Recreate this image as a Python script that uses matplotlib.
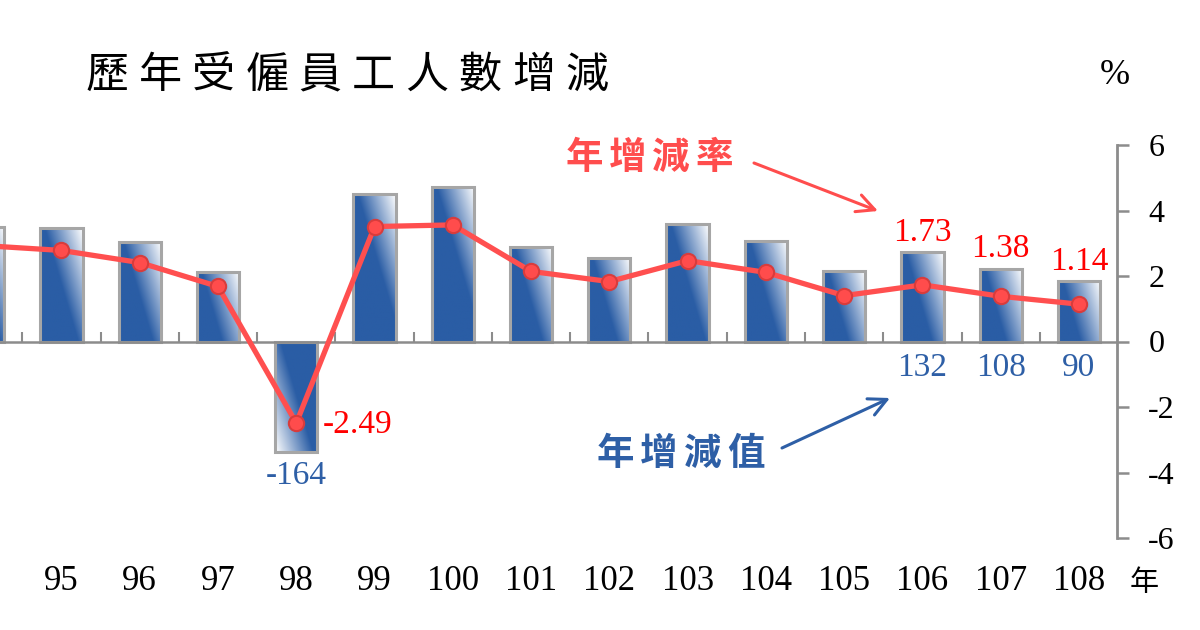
import matplotlib
matplotlib.use("Agg")
import matplotlib.pyplot as plt
import matplotlib.transforms as mtransforms
import numpy as np
from matplotlib.patches import Rectangle

plt.rcParams['font.family'] = ['Liberation Serif', 'Noto Sans CJK TC']
plt.rcParams['axes.unicode_minus'] = False

# data (年增減值: 千人, 年增減率: %)
years = ['94', '95', '96', '97', '98', '99', '100', '101', '102', '103',
         '104', '105', '106', '107', '108']
change = [170, 168, 148, 103, -164, 219, 229, 140, 124, 174, 149, 104, 132, 108, 90]
rate = [2.93, 2.78, 2.41, 1.68, -2.49, 3.51, 3.56, 2.14, 1.83, 2.47, 2.11, 1.40,
        1.73, 1.38, 1.14]
rate_labels = {12: '1.73', 13: '1.38', 14: '1.14'}
change_labels = {12: '132', 13: '108', 14: '90'}

BLUE = np.array([0x2a, 0x5d, 0xa5]) / 255
WHITE = np.array([1.0, 1.0, 1.0])
CJK = ['Noto Sans CJK TC']

fig = plt.figure(figsize=(12, 6.3), dpi=100)
# pixel geometry: 0% at y=342, 6 -> 145, -6 -> 538; bar centers 78.27px apart
px_per_cat = 78.27
x0_px = -16.8
ax = fig.add_axes([0, (630 - 538) / 630, 1117 / 1200, (538 - 145) / 630])
ax2 = ax.twinx()
xlim = (-x0_px / px_per_cat, (1117 - x0_px) / px_per_cat)
ax.set_xlim(*xlim)
ax2.set_xlim(*xlim)
ax2.set_ylim(-6, 6)
bar_px = 0.675  # px per thousand
ax.set_ylim(-196.5 / bar_px, 196.5 / bar_px)

for s in ax.spines.values():
    s.set_visible(False)
ax.set_yticks([])
ax.set_xticks([])
for s in ['top', 'left', 'bottom']:
    ax2.spines[s].set_visible(False)
ax2.spines['right'].set_color('#8c8c8c')
ax2.spines['right'].set_linewidth(2)
ax2.set_yticks(np.arange(-6, 7, 2))
ax2.tick_params(axis='y', direction='out', length=8.5, width=1.8, color='#8c8c8c',
                pad=14, labelsize=23, labelcolor='black')
ax2.set_xticks([])

# bars with diagonal gradient
width = 0.54
w_px = width * px_per_cat
for i, v in enumerate(change):
    h_px = abs(v) * bar_px
    nx = int(w_px)
    ny = max(int(h_px), 2)
    xs = np.linspace(0, 1, nx)
    ys = np.arange(ny)
    dx = (1 - xs)[None, :] * w_px
    dy = ys[:, None].astype(float)
    d = dx + 0.3 * dy
    s = np.clip(1 - d / (0.9 * w_px), 0, 1) ** 1.0
    if v < 0:
        s = s[::-1, ::-1]
    img = BLUE[None, None, :] * (1 - s[..., None]) + WHITE[None, None, :] * s[..., None]
    ax.imshow(img, extent=(i - width / 2, i + width / 2, min(0, v), max(0, v)),
              aspect='auto', origin='upper', interpolation='bilinear', zorder=2)
    ax.add_patch(Rectangle((i - width / 2, min(0, v)), width, abs(v), fill=False,
                           edgecolor='#a6a6a6', linewidth=2.2, zorder=3))

# zero line and category separator ticks
ax2.axhline(0, color='#8c8c8c', linewidth=1.8, zorder=1)
ax2.vlines(np.arange(len(years)) + 0.5, 0, 0.3, color='#8c8c8c', linewidth=1.5, zorder=1)

# rate line
idx = np.arange(len(years))
ax2.plot(idx, rate, color='#ff4f4f', linewidth=3.8, zorder=5,
         marker='o', markersize=11, markerfacecolor='#ff4c4c',
         markeredgecolor='#d83c3c', markeredgewidth=1.5)

# value labels
for i, t in rate_labels.items():
    ax.annotate(t, xy=(i, change[i]), xytext=(0, 3), textcoords='offset points',
                ha='center', va='bottom', fontsize=24, color='#ff0000', zorder=6)
ax2.annotate('-2.49', xy=(4, rate[4]), xytext=(19, -1), textcoords='offset points',
             ha='left', va='center', fontsize=24, color='#ff0000', zorder=6)
for i, t in change_labels.items():
    ax.annotate(t, xy=(i, 0), xytext=(0, -19), textcoords='offset points',
                ha='center', va='center', fontsize=24, color='#2e5fa6')
ax.annotate('-164', xy=(4, change[4]), xytext=(0, -17), textcoords='offset points',
            ha='center', va='center', fontsize=24, color='#2e5fa6')

# category labels along the bottom
trans = mtransforms.blended_transform_factory(ax.transData, fig.transFigure)
for i, y in enumerate(years):
    ax.text(i, 1 - 582 / 630, y, transform=trans, ha='center', va='center',
            fontsize=25, color='black', clip_on=False)

# title, units
title = '歷年受僱員工人數增減'
for k, ch in enumerate(title):
    fig.text((107 + k * 53.3) / 1200, 1 - 76 / 630, ch, family=CJK, fontsize=31,
             fontweight='medium', ha='center', va='center', color='black')
fig.text(1115 / 1200, 1 - 75 / 630, '%', fontsize=26, ha='center', va='center')
fig.text(1144 / 1200, 1 - 583 / 630, '年', family=CJK, fontsize=21, ha='center',
         va='center')

# legend-like annotations
for k, ch in enumerate('年增減率'):
    fig.text((584 + k * 43.5) / 1200, 1 - 157 / 630, ch, family=CJK, fontsize=27,
             fontweight='bold', ha='center', va='center', color='#ff4d4d')
for k, ch in enumerate('年增減值'):
    fig.text((615 + k * 43.7) / 1200, 1 - 453 / 630, ch, family=CJK, fontsize=27,
             fontweight='bold', ha='center', va='center', color='#2e5fa6')
ax2.annotate('', xy=(878, 630 - 211), xycoords='figure pixels',
             xytext=(754, 630 - 163), textcoords='figure pixels',
             arrowprops=dict(arrowstyle='->', color='#ff4d4d', lw=2.2,
                             mutation_scale=32, shrinkA=0, shrinkB=0))
ax2.annotate('', xy=(890, 630 - 398), xycoords='figure pixels',
             xytext=(782, 630 - 448), textcoords='figure pixels',
             arrowprops=dict(arrowstyle='->', color='#2e5fa6', lw=2.2,
                             mutation_scale=32, shrinkA=0, shrinkB=0))

fig.savefig('out.png', dpi=100)
